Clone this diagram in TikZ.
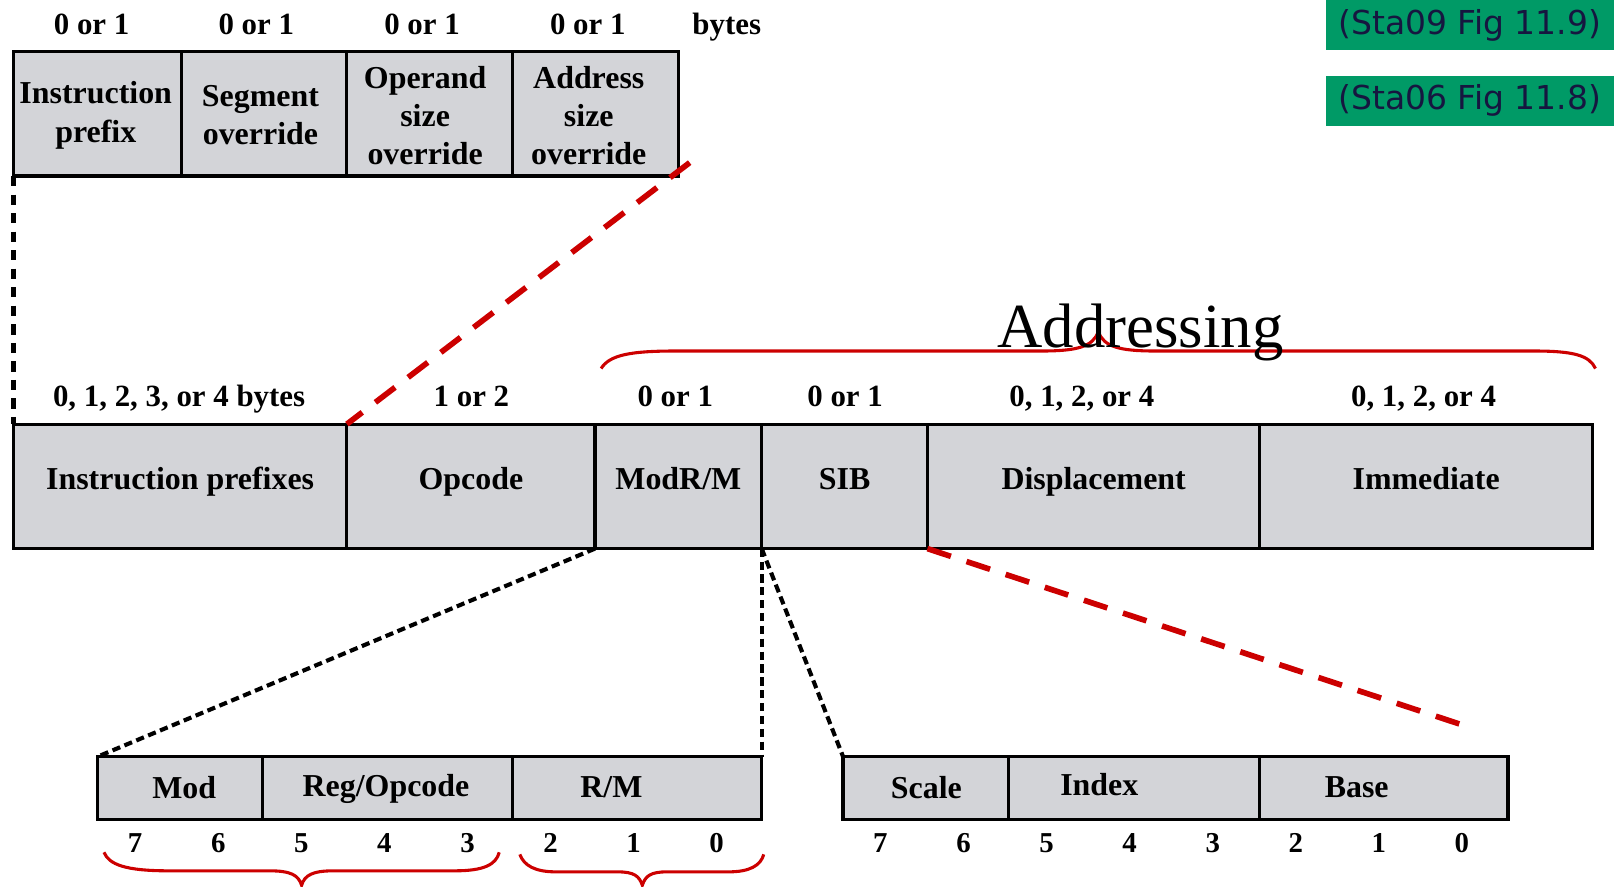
\documentclass[tikz,border=0pt]{standalone}
\usepackage{fontspec}
\setmainfont{Liberation Serif}
\newfontfamily\figfont{DejaVu Sans}
\definecolor{cellgray}{RGB}{211,212,216}
\definecolor{bracered}{RGB}{204,0,0}
\definecolor{refgreen}{RGB}{0,154,102}
\definecolor{refnavy}{RGB}{22,22,64}
\begin{document}
\begin{tikzpicture}
[x=1pt,y=-1pt,
  cell/.style={draw,line width=3pt,fill=cellgray,inner sep=0pt,outer sep=0pt},
  celltext/.style={align=center,inner sep=0pt,font=\fontsize{31}{37}\selectfont\bfseries},
  midcell/.style={cell,celltext,text height=21pt,text depth=14pt},
  count/.style={anchor=base,font=\fontsize{30}{36}\selectfont\bfseries},
  bitnum/.style={anchor=base,font=\fontsize{28}{34}\selectfont\bfseries},
  zoomline/.style={line width=4pt,dash pattern=on 8pt off 4.5pt},
  widezoomline/.style={line width=5pt,dash pattern=on 10pt off 8pt},
  redline/.style={bracered,line width=5.5pt,dash pattern=on 24pt off 16pt},
  bracepath/.style={bracered,line width=3pt},
  figref/.style={fill=refgreen,text=refnavy,inner sep=0pt,minimum width=280pt,
    font=\fontsize{32}{38}\selectfont\figfont}]
\useasboundingbox (0,0) rectangle (1568,861);
%% figure references
\node[figref,minimum height=49pt] (ref09) at (1428,24.5) {(Sta09 Fig 11.9)};
\node[figref,minimum height=48pt] (ref06) at (1428,98) {(Sta06 Fig 11.8)};
%% prefix bytes
\foreach \name/\xa/\xb/\tx/\cx/\txt in {ipre/13/176/93/89/{Instruction\\prefix},
  sego/176/337/253/249/{Segment\\override}, opsz/337/498/413/410/{Operand\\size\\override},
  adsz/498/659/572/571/{Address\\size\\override}} {
  \node[cell,minimum width={(\xb-\xa)*1pt},minimum height=121pt] (\name)
    at ({(\xa+\xb)/2},110.5) {};
  \node[celltext] (\name-txt) at (\tx,112) {\txt};
  \node[count] (\name-cnt) at (\cx,34) {0 or 1};
}
\node[count] (bytes) at (706,34) {bytes};
%% instruction format
\foreach \name/\xa/\xb/\cx/\txt/\cnt in {ipfx/13/337/174/{Instruction prefixes}/{0, 1, 2, 3, or 4 bytes},
  opc/337/578/458/{Opcode}/{1 or 2}, modrm/578/740/656/{ModR/M}/{0 or 1},
  sib/740/901/821/{SIB}/{0 or 1}, disp/901/1224/1051/{Displacement}/{0, 1, 2, or 4},
  imm/1224/1547/1383/{Immediate}/{0, 1, 2, or 4}} {
  \node[midcell,minimum width={(\xb-\xa)*1pt},minimum height=121pt] (\name)
    at ({(\xa+\xb)/2},472.5) {\txt};
  \node[count] (\name-cnt) at (\cx,395) {\cnt};
}
%% ModR/M and SIB bytes
\foreach \name/\xa/\xb/\tx/\ty/\txt in {mod/95/255/179/765/{Mod}, reg/255/498/375/766/{Reg/Opcode},
  rm/498/740/594/765/{R/M}, scale/819/980/900/765/{Scale}, index/980/1224/1068/762/{Index},
  base/1224/1465/1318/765/{Base}} {
  \node[cell,minimum width={(\xb-\xa)*1pt},minimum height=61pt] (\name)
    at ({(\xa+\xb)/2},765.5) {};
  \node[celltext] (\name-txt) at (\tx,\ty) {\txt};
}
\foreach \bx/\tag in {95/l,819/r} {
  \foreach \b in {0,...,7} {
    \node[bitnum] (bit\tag\b) at ({\bx+(7-\b+0.5)*80.7-4},828) {\b};
  }
}
%% braces
\draw[bracepath] (584,358) .. controls (592,345) and (612,341) .. (656,341) -- (1012,341)
  .. controls (1046,341) and (1062,337) .. (1067,322)
  .. controls (1072,337) and (1088,341) .. (1122,341) -- (1490,341)
  .. controls (1528,341) and (1544,345) .. (1550,358);
\node[anchor=base,font=\fontsize{61}{70}\selectfont] (addressing) at (1108,338) {Addressing};
\draw[bracepath] (101,828) .. controls (106,840) and (122,846) .. (164,846) -- (262,846)
  .. controls (282,846) and (290,850) .. (293,860)
  .. controls (296,850) and (304,846) .. (324,846) -- (442,846)
  .. controls (470,846) and (482,840) .. (485,828);
\draw[bracepath] (505,830) .. controls (509,841) and (520,847) .. (540,847) -- (600,847)
  .. controls (616,847) and (621,851) .. (624,860)
  .. controls (627,851) and (632,847) .. (648,847) -- (708,847)
  .. controls (728,847) and (739,841) .. (742,830);
%% zoom lines
\coordinate (redtop) at (670,158);
\coordinate (redend) at (1432,708);
\draw[widezoomline] (ipre.south west) -- (ipfx.north west);
\draw[redline] (redtop) -- (opc.north west);
\draw[zoomline] (modrm.south west) -- (mod.north west);
\draw[zoomline] (modrm.south east) -- (rm.north east);
\draw[zoomline] (sib.south west) -- (scale.north west);
\draw[redline] (sib.south east) -- (redend);
\end{tikzpicture}
\end{document}
